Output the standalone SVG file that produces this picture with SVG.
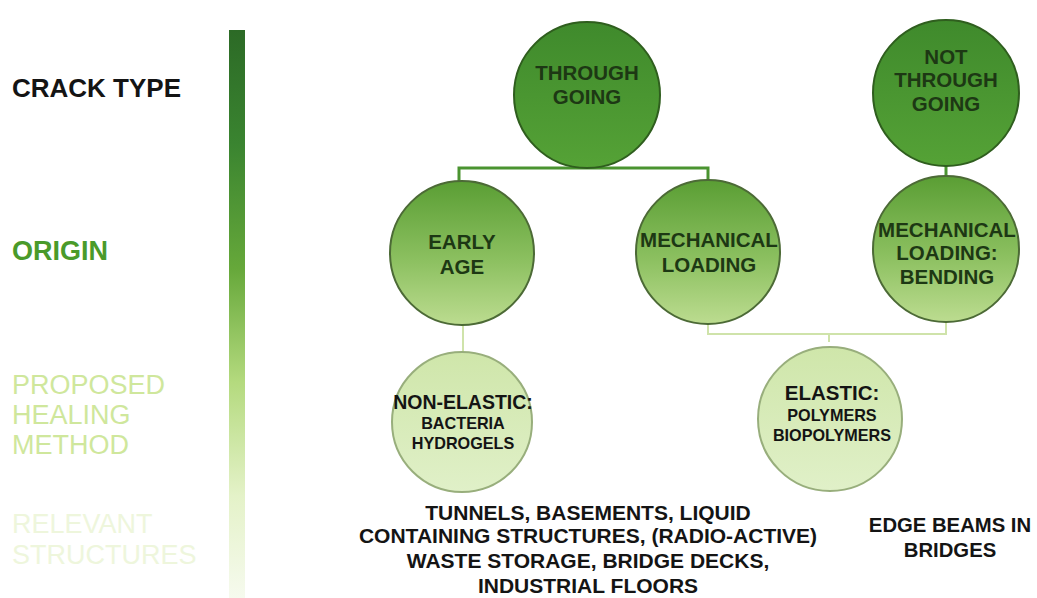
<svg xmlns="http://www.w3.org/2000/svg" width="1037" height="598" viewBox="0 0 1037 598">
<defs>
<linearGradient id="bar" x1="0" y1="0" x2="0" y2="1">
<stop offset="0" stop-color="#2c6a26"/>
<stop offset="0.2" stop-color="#3a8430"/>
<stop offset="0.42" stop-color="#66a83a"/>
<stop offset="0.62" stop-color="#b4da7e"/>
<stop offset="0.82" stop-color="#e4f2c8"/>
<stop offset="1" stop-color="#f6faee"/>
</linearGradient>
<linearGradient id="gTop" x1="0" y1="0" x2="0" y2="1">
<stop offset="0" stop-color="#3f8a2c"/>
<stop offset="1" stop-color="#55a236"/>
</linearGradient>
<linearGradient id="gMid" x1="0" y1="0" x2="0" y2="1">
<stop offset="0" stop-color="#5a9e34"/>
<stop offset="0.55" stop-color="#8cc060"/>
<stop offset="1" stop-color="#bcdc90"/>
</linearGradient>
<linearGradient id="gLow" x1="0" y1="0" x2="0" y2="1">
<stop offset="0" stop-color="#cfe6aa"/>
<stop offset="1" stop-color="#e0f0c8"/>
</linearGradient>
<style>
.t{font-family:"Liberation Sans",Arial,sans-serif;font-weight:bold;text-anchor:middle}
.dk{fill:#1d3814}
.bk{fill:#141414}
.lbl{font-family:"Liberation Sans",Arial,sans-serif}
.top{fill:url(#gTop);stroke:#2f5e1e;stroke-width:2}
.mid{fill:url(#gMid);stroke:#4c6a36;stroke-width:2}
.low{fill:url(#gLow);stroke:#98ae7c;stroke-width:2}
.cd{fill:none;stroke:#4a9430;stroke-width:3}
.cl{fill:none;stroke:#cfe3aa;stroke-width:2}
</style>
</defs>
<rect width="1037" height="598" fill="#ffffff"/>

<g id="legend">
<rect x="229" y="30" width="16" height="568" fill="url(#bar)"/>
<text class="lbl" x="12" y="97" font-size="26" font-weight="bold" fill="#141414">CRACK TYPE</text>
<text class="lbl" x="12" y="260" font-size="27" font-weight="bold" fill="#4a9a2a">ORIGIN</text>
<text class="lbl" x="12" y="394" font-size="27" fill="#cfe79c">PROPOSED</text>
<text class="lbl" x="12" y="424" font-size="27" fill="#cfe79c">HEALING</text>
<text class="lbl" x="12" y="454" font-size="27" fill="#cfe79c">METHOD</text>
<text class="lbl" x="12" y="533" font-size="27" fill="#eef6dc">RELEVANT</text>
<text class="lbl" x="12" y="564" font-size="27" fill="#eef6dc">STRUCTURES</text>
</g>

<g id="connectors">
<path class="cd" d="M588 157 V168 M459 181 V168 H708 V181"/>
<path class="cd" d="M946 156 V176"/>
<path class="cl" d="M463 325 V353"/>
<path class="cl" d="M708 322 V334 H946 V322 M829 334 V342"/>
</g>

<g id="through-going">
<circle class="top" cx="587" cy="95" r="73"/>
<text class="t dk" x="587" y="80" font-size="20.5">THROUGH</text>
<text class="t dk" x="587" y="104" font-size="20.5">GOING</text>
</g>

<g id="not-through-going">
<circle class="top" cx="946" cy="93" r="73"/>
<text class="t dk" x="946" y="64" font-size="20.5">NOT</text>
<text class="t dk" x="946" y="87" font-size="20.5">THROUGH</text>
<text class="t dk" x="946" y="111" font-size="20.5">GOING</text>
</g>

<g id="early-age">
<circle class="mid" cx="462" cy="253" r="72"/>
<text class="t dk" x="462" y="249" font-size="20.5">EARLY</text>
<text class="t dk" x="462" y="274" font-size="20.5">AGE</text>
</g>

<g id="mechanical-loading">
<circle class="mid" cx="708" cy="252" r="72"/>
<text class="t dk" x="709" y="247" font-size="20.5">MECHANICAL</text>
<text class="t dk" x="709" y="272" font-size="20.5">LOADING</text>
</g>

<g id="mechanical-loading-bending">
<circle class="mid" cx="946" cy="249" r="73"/>
<text class="t dk" x="947" y="237" font-size="20.5">MECHANICAL</text>
<text class="t dk" x="947" y="260" font-size="20.5">LOADING:</text>
<text class="t dk" x="947" y="284" font-size="20.5">BENDING</text>
</g>

<g id="non-elastic">
<circle class="low" cx="462" cy="422" r="70"/>
<text class="t bk" x="463" y="409" font-size="19.5">NON-ELASTIC:</text>
<text class="t bk" x="463" y="429" font-size="16.2">BACTERIA</text>
<text class="t bk" x="463" y="449" font-size="16.2">HYDROGELS</text>
</g>

<g id="elastic">
<circle class="low" cx="830" cy="419" r="72"/>
<text class="t bk" x="832" y="400" font-size="20.5">ELASTIC:</text>
<text class="t bk" x="832" y="421" font-size="16.2">POLYMERS</text>
<text class="t bk" x="832" y="441" font-size="16.2">BIOPOLYMERS</text>
</g>

<g id="structures-left">
<text class="t bk" x="588" y="520" font-size="21">TUNNELS, BASEMENTS, LIQUID</text>
<text class="t bk" x="588" y="543" font-size="21">CONTAINING STRUCTURES, (RADIO-ACTIVE)</text>
<text class="t bk" x="588" y="568" font-size="21">WASTE STORAGE, BRIDGE DECKS,</text>
<text class="t bk" x="588" y="593" font-size="21">INDUSTRIAL FLOORS</text>
</g>

<g id="structures-right">
<text class="t bk" x="950" y="532" font-size="20.3">EDGE BEAMS IN</text>
<text class="t bk" x="950" y="557" font-size="20.3">BRIDGES</text>
</g>
</svg>
